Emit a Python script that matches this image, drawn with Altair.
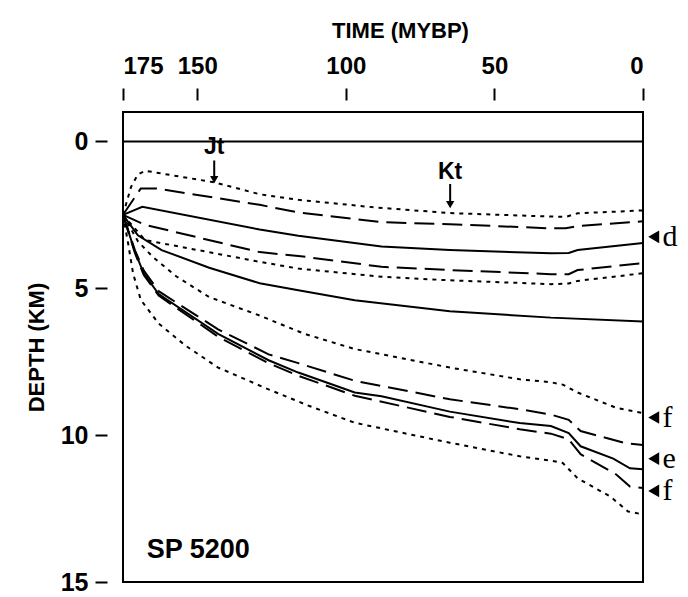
import altair as alt
import pandas as pd

# ---- data (time in MYBP, depth in km) ----
t_sea = [175, 0]
d_sea = [0, 0]

t_a = [175, 172.3, 170, 167.5, 144, 129, 116, 90, 65, 31, 26, 22, 0]
d_a = [2.5, 1.55, 1.13, 1.0, 1.4, 1.8, 1.99, 2.25, 2.44, 2.56, 2.57, 2.45, 2.35]

t_b = [175, 169, 164, 129, 116, 88, 65, 31, 26, 22, 0]
d_b = [2.5, 1.6, 1.6, 2.16, 2.42, 2.75, 2.82, 2.96, 2.96, 2.88, 2.72]

t_c = [175, 168.5, 129, 116, 88, 65, 31, 25, 22, 0]
d_c = [2.5, 2.23, 3.0, 3.21, 3.58, 3.7, 3.81, 3.8, 3.7, 3.46]

t_dd = [175, 167.6, 129, 116, 88, 65, 31, 25, 22, 0]
d_dd = [2.5, 2.84, 3.77, 3.9, 4.27, 4.38, 4.52, 4.52, 4.38, 4.14]

t_e = [175, 167.6, 129, 116, 88, 65, 31, 25, 22, 0]
d_e = [2.5, 3.36, 4.1, 4.33, 4.61, 4.73, 4.86, 4.84, 4.75, 4.49]

t_f = [175, 170, 162, 146, 129, 116, 97, 65, 31, 0]
d_f = [2.5, 3.2, 3.7, 4.3, 4.83, 5.07, 5.41, 5.78, 6.0, 6.13]

t_g = [175, 170, 165, 157, 146, 129, 114, 97, 65, 41.5, 31, 27, 22, 9, 0]
d_g = [2.5, 3.4, 3.93, 4.6, 5.3, 5.93, 6.55, 7.07, 7.7, 8.1, 8.2, 8.28, 8.55, 9.07, 9.25]

t_h = [175, 171, 168, 163, 143, 126, 116, 97, 65, 41.5, 31, 25, 21, 6, 0]
d_h = [2.5, 3.7, 4.4, 5.1, 6.4, 7.25, 7.55, 8.15, 8.78, 9.12, 9.3, 9.48, 9.86, 10.27, 10.34]

t_i = [175, 171, 168, 163, 143, 126, 116, 97, 88, 65, 41.5, 31, 25, 21, 10, 4.4, 0]
d_i = [2.5, 3.75, 4.5, 5.2, 6.55, 7.45, 7.87, 8.55, 8.68, 9.2, 9.59, 9.69, 9.93, 10.38, 10.8, 11.13, 11.16]

t_j = [175, 171, 168, 163, 143, 126, 116, 97, 65, 41.5, 31, 25, 21, 9, 4.4, 0]
d_j = [2.5, 3.8, 4.55, 5.25, 6.65, 7.55, 7.98, 8.66, 9.38, 9.8, 9.95, 10.14, 10.65, 11.34, 11.75, 11.8]

t_k = [175, 173.3, 171.6, 169, 163, 154, 143, 127, 112.5, 97, 65, 41.5, 31, 27, 22, 11, 5, 0]
d_k = [2.5, 3.46, 4.5, 5.4, 6.2, 6.95, 7.7, 8.4, 9.0, 9.58, 10.26, 10.72, 10.87, 10.95, 11.47, 12.09, 12.6, 12.7]

solid_series = {"sea": (t_sea, d_sea), "c": (t_c, d_c), "f": (t_f, d_f), "i": (t_i, d_i)}
dash_series = {"b": (t_b, d_b), "dd": (t_dd, d_dd), "h": (t_h, d_h), "j": (t_j, d_j)}
dot_series = {"a": (t_a, d_a), "e": (t_e, d_e), "g": (t_g, d_g), "k": (t_k, d_k)}

marker_labels = ["d", "f", "e", "f"]
marker_depths = [3.25, 9.4, 10.8, 11.9]

event_labels = ["Jt", "Kt"]
event_times = [144.3, 64.9]
event_text_depths = [0.2, 1.03]
event_arrow_top = [0.65, 1.45]
event_arrow_tip = [1.3, 2.15]

x_ticks = [175, 150, 100, 50, 0]
y_ticks = [0, 5, 10, 15]


def frame(series):
    rows = []
    for name, (ts, ds) in series.items():
        for k, (t, d) in enumerate(zip(ts, ds)):
            rows.append({"series": name, "i": k, "t": t, "d": d})
    return pd.DataFrame(rows)


FONT = "Liberation Sans"

x_enc = alt.X(
    "t:Q",
    scale=alt.Scale(domain=[175, 0], nice=False, zero=False),
    axis=alt.Axis(
        orient="top", values=x_ticks, offset=12, tickSize=12, tickWidth=2,
        tickColor="black", domain=False, grid=False, labelFont=FONT,
        labelFontSize=24, labelFontWeight="bold", labelColor="black",
        labelPadding=10, title="TIME (MYBP)", titleFont=FONT, titleFontSize=22,
        titleFontWeight="bold", titleColor="black", titleX=277, titlePadding=12,
    ),
)
y_enc = alt.Y(
    "d:Q",
    scale=alt.Scale(domain=[-1, 15], reverse=True, nice=False, zero=False),
    axis=alt.Axis(
        values=y_ticks, offset=16, tickSize=12, tickWidth=2, tickColor="black",
        domain=False, grid=False, labelFont=FONT, labelFontSize=25,
        labelFontWeight="bold", labelColor="black", labelPadding=7,
        title="DEPTH (KM)", titleFont=FONT, titleFontSize=22,
        titleFontWeight="bold", titleColor="black", titlePadding=12,
    ),
)


def lines(series, dash):
    kw = dict(color="black", strokeWidth=2, clip=False)
    if dash:
        kw["strokeDash"] = dash
    return alt.Chart(frame(series)).mark_line(**kw).encode(
        x=x_enc, y=y_enc, detail="series:N", order="i:Q"
    )


solid = lines(solid_series, None)
dashed = lines(dash_series, [20, 8])
dotted = lines(dot_series, [4, 5])

sx = alt.Scale(domain=[175, 0], nice=False, zero=False)
sy = alt.Scale(domain=[-1, 15], reverse=True, nice=False, zero=False)

mk = pd.DataFrame({"lab": marker_labels, "d": marker_depths,
                   "tm": [-3.6] * 4, "tt": [-6.6] * 4})
tri = alt.Chart(mk).mark_point(shape="triangle-left", filled=True, color="black",
                               size=160, opacity=1, clip=False).encode(
    x=alt.X("tm:Q", scale=sx), y=alt.Y("d:Q", scale=sy))
tri_text = alt.Chart(mk).mark_text(font="Liberation Serif", fontSize=30, align="left",
                                   baseline="middle", color="black", clip=False).encode(
    x=alt.X("tt:Q", scale=sx), y=alt.Y("d:Q", scale=sy), text="lab:N")

ev = pd.DataFrame({"lab": event_labels, "t": event_times, "dt": event_text_depths,
                   "d0": event_arrow_top, "d1": event_arrow_tip})
ev_text = alt.Chart(ev).mark_text(font=FONT, fontSize=23, fontWeight="bold",
                                  baseline="middle", color="black").encode(
    x=alt.X("t:Q", scale=sx), y=alt.Y("dt:Q", scale=sy), text="lab:N")
ev_rule = alt.Chart(ev).mark_rule(color="black", strokeWidth=2).encode(
    x=alt.X("t:Q", scale=sx), y=alt.Y("d0:Q", scale=sy), y2="d1:Q")
ev_head = alt.Chart(ev).mark_point(shape="triangle-down", filled=True, color="black",
                                   size=70, opacity=1).encode(
    x=alt.X("t:Q", scale=sx), y=alt.Y("d1:Q", scale=sy))

sp = pd.DataFrame({"lab": ["SP 5200"], "t": [167], "d": [13.9]})
sp_text = alt.Chart(sp).mark_text(font=FONT, fontSize=27, fontWeight="bold", align="left",
                                  baseline="middle", color="black").encode(
    x=alt.X("t:Q", scale=sx), y=alt.Y("d:Q", scale=sy), text="lab:N")

chart = alt.layer(
    solid, dashed, dotted, tri, tri_text, ev_text, ev_rule, ev_head, sp_text
).properties(
    width=520, height=470,
    padding={"left": 115, "top": 104, "right": 37, "bottom": 13},
    autosize=alt.AutoSizeParams(type="none"),
    background="white",
).configure_view(stroke="black", strokeWidth=2)

chart.save("out.html", embed_options={"renderer": "svg", "actions": False})
